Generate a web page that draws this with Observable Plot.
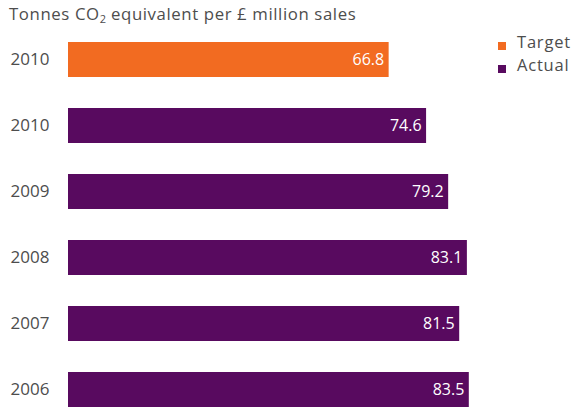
<!DOCTYPE html>
<html>
<head>
<meta charset="utf-8">
<script src="https://cdn.jsdelivr.net/npm/d3@7"></script>
<script src="https://cdn.jsdelivr.net/npm/@observablehq/plot@0.6"></script>
<style>
  html, body { margin: 0; padding: 0; background: #fff; }
  #wrap { position: relative; width: 577px; height: 412px; font-family: "Open Sans", sans-serif; color: #4d4d4d; }
  #title { position: absolute; left: 9px; top: 2px; font-size: 16.8px; white-space: nowrap; letter-spacing: 0.6px; }
  #title sub { font-size: 11px; vertical-align: -3px; line-height: 0; letter-spacing: 0; }
  .leg { position: absolute; left: 498px; font-size: 16.5px; white-space: nowrap; line-height: 1; letter-spacing: 0.8px; }
  .leg span.sw { position: absolute; left: 0; width: 8px; height: 8px; }
  .leg span.lb { position: absolute; left: 19px; top: -8px; }
  #chart { position: absolute; left: 0; top: 0; }
</style>
</head>
<body>
<div id="wrap">
  <div id="chart"></div>
  <div id="title">Tonnes CO<sub>2</sub> equivalent per £ million sales</div>
  <div id="legend"></div>
</div>
<script>
const years = ["2010", "2010", "2009", "2008", "2007", "2006"];
const values = [66.8, 74.6, 79.2, 83.1, 81.5, 83.5];
const series = ["Target", "Actual", "Actual", "Actual", "Actual", "Actual"];
const seriesNames = ["Target", "Actual"];
const seriesColors = ["#f26b21", "#580a5f"];

const data = years.map((y, i) => ({key: series[i] + " " + y, year: y, value: values[i], series: series[i]}));

const chart = Plot.plot({
  width: 577,
  height: 412,
  marginLeft: 68,
  marginRight: 29,
  marginTop: 40,
  marginBottom: 3,
  x: {domain: [0, 100], axis: null},
  y: {domain: data.map(d => d.key), paddingInner: 0.476, paddingOuter: 0, axis: null},
  color: {domain: seriesNames, range: seriesColors},
  style: {fontFamily: "Open Sans, sans-serif"},
  marks: [
    Plot.barX(data, {y: "key", x: "value", fill: "series"}),
    Plot.text(data, {y: "key", x: "value", text: d => d.value.toFixed(1), textAnchor: "end", dx: -5, fill: "white", fontSize: 16}),
    Plot.text(data, {y: "key", text: "year", frameAnchor: "left", textAnchor: "start", dx: -58, fill: "#4d4d4d", fontSize: 17, letterSpacing: "0.4px"})
  ]
});
document.getElementById("chart").appendChild(chart);

const legend = document.getElementById("legend");
seriesNames.forEach((name, i) => {
  const div = document.createElement("div");
  div.className = "leg";
  div.style.top = (42 + i * 23) + "px";
  div.innerHTML = `<span class="sw" style="background:${seriesColors[i]}"></span><span class="lb">${name}</span>`;
  legend.appendChild(div);
});
</script>
</body>
</html>
